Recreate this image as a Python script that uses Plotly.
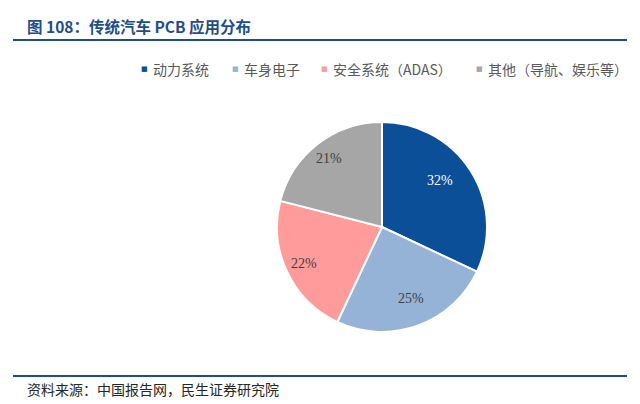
import math
import plotly.graph_objects as go

# data
categories = ["动力系统", "车身电子", "安全系统（ADAS）", "其他（导航、娱乐等）"]
shares = [32, 25, 22, 21]
colors = ["#0B4F98", "#95B3D7", "#FF9B9B", "#A6A6A6"]
text_colors = ["#FFFFFF", "#404040", "#404040", "#404040"]

# legend item positions (px from left): marker, text
legend_marker_x = [144, 235, 324, 479]
legend_text_x = [151, 242, 331, 486]

W, H = 640, 404
cx, cy, r = 382, 227, 105  # pie centre and radius in px

fig = go.Figure()

fig.add_trace(go.Pie(
    labels=categories,
    values=shares,
    sort=False,
    direction="clockwise",
    rotation=0,
    marker=dict(colors=colors, line=dict(color="white", width=2)),
    textinfo="none",
    domain=dict(x=[(cx - r) / W, (cx + r) / W], y=[(H - cy - r) / H, (H - cy + r) / H]),
    hoverinfo="label+percent",
    showlegend=False,
))

# percent labels placed along each slice's bisector
total = sum(shares)
acc = 0
for v, tc in zip(shares, text_colors):
    mid = (acc + v / 2) / total * 2 * math.pi
    acc += v
    fig.add_annotation(text=f"{v}%", xref="paper", yref="paper",
                       x=(cx + 0.82 * r * math.sin(mid)) / W,
                       y=(H - cy + 0.82 * r * math.cos(mid)) / H,
                       showarrow=False,
                       font=dict(family="Liberation Serif", size=14, color=tc))

# legend
for name, col, mx, tx in zip(categories, colors, legend_marker_x, legend_text_x):
    fig.add_annotation(text="■", xref="paper", yref="paper", x=mx / W, y=1 - 69 / H,
                       xanchor="center", yanchor="middle", showarrow=False,
                       font=dict(family="DejaVu Sans", size=7, color=col))
    fig.add_annotation(text=name, xref="paper", yref="paper", x=tx / W, y=1 - 69 / H,
                       xanchor="left", yanchor="middle", showarrow=False,
                       font=dict(family="Noto Sans CJK SC", size=14, color="#595959"))

# title and source lines
fig.add_shape(type="line", xref="paper", yref="paper",
              x0=13 / W, x1=627 / W, y0=1 - 40 / H, y1=1 - 40 / H,
              line=dict(color="#1F4E89", width=2))
fig.add_shape(type="line", xref="paper", yref="paper",
              x0=13 / W, x1=627 / W, y0=1 - 376 / H, y1=1 - 376 / H,
              line=dict(color="#1F4E89", width=2))

fig.add_annotation(text="<b>图 108：传统汽车 PCB 应用分布</b>",
                   xref="paper", yref="paper", x=25 / W, y=1 - 26 / H,
                   xanchor="left", yanchor="middle", showarrow=False,
                   font=dict(family="Noto Sans CJK SC", size=15.5, color="#1F4E89"))
fig.add_annotation(text="资料来源：中国报告网，民生证券研究院",
                   xref="paper", yref="paper", x=25 / W, y=1 - 389 / H,
                   xanchor="left", yanchor="middle", showarrow=False,
                   font=dict(family="Noto Sans CJK SC", size=14, color="#262626"))

fig.update_layout(
    width=W, height=H,
    margin=dict(l=0, r=0, t=0, b=0),
    paper_bgcolor="white",
    plot_bgcolor="white",
)

fig.write_html("out.html", config={"displayModeBar": False},
               post_script="document.body.style.margin='0';")
